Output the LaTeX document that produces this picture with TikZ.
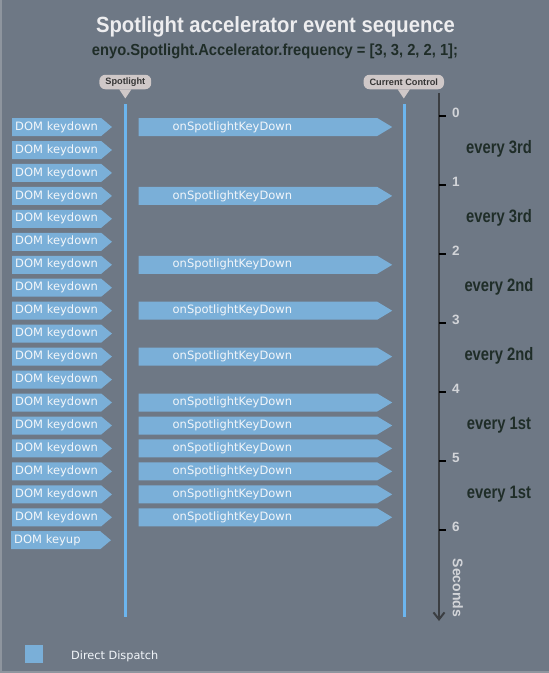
\documentclass[tikz,border=0pt]{standalone}
\usepackage{fontspec}
\setmainfont{Liberation Sans}
\newfontfamily\condfont[FakeStretch=0.92]{Liberation Sans Bold}
\newfontfamily\narrowfont[FakeStretch=0.82]{Liberation Sans Bold}
\newfontfamily\keyfont{DejaVu Sans}
\usetikzlibrary{shapes.symbols,arrows.meta}
\definecolor{slate}{HTML}{6E7885}
\definecolor{slateedge}{HTML}{8E959E}
\definecolor{keyblue}{HTML}{7AAFD8}
\definecolor{keytext}{HTML}{F2F6FA}
\definecolor{lineblue}{HTML}{6CB5EE}
\definecolor{titlegrey}{HTML}{EDEDEF}
\definecolor{darkgreen}{HTML}{1F2D28}
\definecolor{tagfill}{HTML}{CFC8C8}
\definecolor{tagtext}{HTML}{353535}
\definecolor{axisgrey}{HTML}{3B3E42}
\definecolor{digitgrey}{HTML}{D2D4D8}
\begin{document}
\begin{tikzpicture}[x=1pt,y=-1pt,
	key/.style={signal,signal to=east,signal pointer angle=80,fill=keyblue,text=keytext,font=\keyfont\fontsize{11.5}{13}\selectfont,minimum height=18pt,inner xsep=3pt,inner ysep=0pt,text width=83pt,align=left,anchor=west},
	dispatch/.style={key,signal pointer angle=62,inner xsep=34pt,text width=170.5pt},
	tag/.style={fill=tagfill,text=tagtext,font=\bfseries\fontsize{9.2}{10}\selectfont,rounded corners=6pt,minimum height=14.5pt,inner xsep=6pt,inner ysep=0pt},
	lifeline/.style={draw=lineblue,line width=3pt},
	timeline/.style={draw=axisgrey,line width=2pt,-{Straight Barb[length=7pt,width=11pt]}},
	tick/.style={draw=black,line width=1.2pt},
	sec/.style={text=digitgrey,font=\bfseries\fontsize{13.5}{15}\selectfont,anchor=base west,inner sep=0pt},
	every/.style={text=darkgreen,font=\narrowfont\fontsize{18}{20}\selectfont,anchor=base,inner sep=0pt}]
	\useasboundingbox (0,0) rectangle (549,673);
	\fill[slate] (0,0) rectangle (549,673);
	\draw[slateedge,line width=2.5pt] (1.2,0) -- (1.2,671.8) -- (549,671.8);

	% title
	\node[anchor=base,text=titlegrey,font=\condfont\fontsize{22}{26}\selectfont] at (275.5,32) (title) {Spotlight accelerator event sequence};
	\node[anchor=base,text=darkgreen,font=\condfont\fontsize{16}{19}\selectfont] at (275,55.5) (freq) {enyo.Spotlight.Accelerator.frequency = [3, 3, 2, 2, 1];};

	% lifelines
	\node[tag] at (125.3,82) (spot) {Spotlight};
	\node[tag] at (403.8,82) (ctrl) {Current Control};
	\fill[tagfill] ([xshift=-6pt]spot.south) -- ([xshift=6pt]spot.south) -- ([yshift=-9pt]spot.south) -- cycle;
	\fill[tagfill] ([xshift=-6pt]ctrl.south) -- ([xshift=6pt]ctrl.south) -- ([yshift=-9pt]ctrl.south) -- cycle;
	\coordinate (spottop) at (125.5,104);
	\coordinate (spotend) at (125.5,617);
	\coordinate (ctrltop) at (404.3,104);
	\coordinate (ctrlend) at (404.3,617);
	\draw[lifeline] (spottop) -- (spotend);
	\draw[lifeline] (ctrltop) -- (ctrlend);

	% DOM events
	\node[key] at (12,127.0) (k1) {DOM keydown};
	\node[key] at (12,150.0) (k2) {DOM keydown};
	\node[key] at (12,172.9) (k3) {DOM keydown};
	\node[key] at (12,195.9) (k4) {DOM keydown};
	\node[key] at (12,218.8) (k5) {DOM keydown};
	\node[key] at (12,241.8) (k6) {DOM keydown};
	\node[key] at (12,264.8) (k7) {DOM keydown};
	\node[key] at (12,287.7) (k8) {DOM keydown};
	\node[key] at (12,310.7) (k9) {DOM keydown};
	\node[key] at (12,333.6) (k10) {DOM keydown};
	\node[key] at (12,356.6) (k11) {DOM keydown};
	\node[key] at (12,379.6) (k12) {DOM keydown};
	\node[key] at (12,402.5) (k13) {DOM keydown};
	\node[key] at (12,425.5) (k14) {DOM keydown};
	\node[key] at (12,448.4) (k15) {DOM keydown};
	\node[key] at (12,471.4) (k16) {DOM keydown};
	\node[key] at (12,494.4) (k17) {DOM keydown};
	\node[key] at (12,517.3) (k18) {DOM keydown};
	\node[key] at (11,540.2) (ku) {DOM keyup};

	% dispatched events
	\node[dispatch] at (138.5,127.0) (d1) {onSpotlightKeyDown};
	\node[dispatch] at (138.5,195.9) (d4) {onSpotlightKeyDown};
	\node[dispatch] at (138.5,264.8) (d7) {onSpotlightKeyDown};
	\node[dispatch] at (138.5,310.7) (d9) {onSpotlightKeyDown};
	\node[dispatch] at (138.5,356.6) (d11) {onSpotlightKeyDown};
	\node[dispatch] at (138.5,402.5) (d13) {onSpotlightKeyDown};
	\node[dispatch] at (138.5,425.5) (d14) {onSpotlightKeyDown};
	\node[dispatch] at (138.5,448.4) (d15) {onSpotlightKeyDown};
	\node[dispatch] at (138.5,471.4) (d16) {onSpotlightKeyDown};
	\node[dispatch] at (138.5,494.4) (d17) {onSpotlightKeyDown};
	\node[dispatch] at (138.5,517.3) (d18) {onSpotlightKeyDown};

	% time axis
	\coordinate (ttop) at (439,93);
	\coordinate (tend) at (439,621);
	\draw[timeline] (ttop) -- (tend);
	\draw[tick] (439,116) -- (446,116);
	\draw[tick] (439,185) -- (446,185);
	\draw[tick] (439,254) -- (446,254);
	\draw[tick] (439,323) -- (446,323);
	\draw[tick] (439,392) -- (446,392);
	\draw[tick] (439,461) -- (446,461);
	\draw[tick] (439,530) -- (446,530);
	\node[sec] at (452,117) (s0) {0};
	\node[sec] at (452,186) (s1) {1};
	\node[sec] at (452,255) (s2) {2};
	\node[sec] at (452,324) (s3) {3};
	\node[sec] at (452,393) (s4) {4};
	\node[sec] at (452,462) (s5) {5};
	\node[sec] at (452,531) (s6) {6};
	\node[sec,anchor=center,rotate=-90,font=\bfseries\fontsize{14}{16}\selectfont] at (458,588) (seconds) {Seconds};

	\node[every] at (499,153) (e1) {every 3rd};
	\node[every] at (499,222) (e2) {every 3rd};
	\node[every] at (499,291) (e3) {every 2nd};
	\node[every] at (499,360) (e4) {every 2nd};
	\node[every] at (499,429) (e5) {every 1st};
	\node[every] at (499,498) (e6) {every 1st};

	% legend
	\node[fill=keyblue,minimum size=18.3pt,inner sep=0pt] at (34.2,654.2) (legend) {};
	\node[anchor=base west,inner sep=0pt,text=keytext,font=\keyfont\fontsize{11.3}{13}\selectfont] at (71,659) (legendtext) {Direct Dispatch};
\end{tikzpicture}
\end{document}
